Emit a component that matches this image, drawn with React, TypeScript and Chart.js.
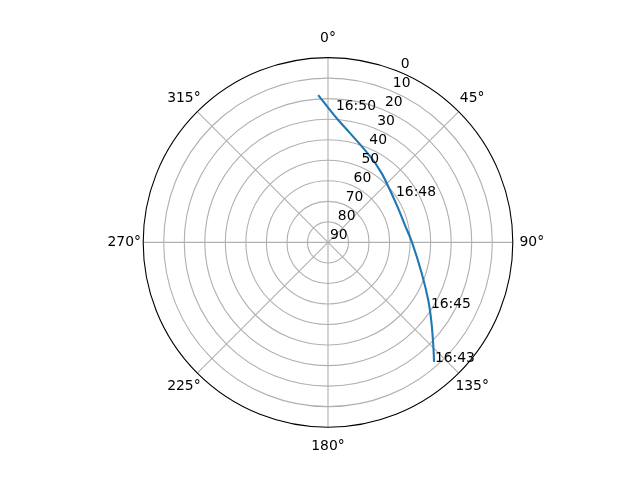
import React, { useEffect, useRef } from "react";
import { Chart, registerables } from "chart.js";

Chart.register(...registerables);

// satellite track, in time order (azimuth deg clockwise from north, elevation deg)
const azimuth = [138.4, 134.7, 128.0, 119.9, 108.3, 89.5, 77.3, 64.1, 49.8, 37.9, 26.5, 11.4, 4.0, -3.8];
const elevation = [12.2, 17.8, 26.0, 33.7, 41.9, 49.2, 51.6, 52.0, 50.5, 47.4, 43.5, 35.7, 29.4, 18.1];

// time annotations
const timeLabels = ["16:43", "16:45", "16:48", "16:50"];
const timeAzimuth = [138.4, 122.9, 55.3, 3.0];
const timeElevation = [12.3, 30.9, 50.3, 25.4];

const radialTicks = [0, 10, 20, 30, 40, 50, 60, 70, 80, 90];
const angleTicks = [0, 45, 90, 135, 180, 225, 270, 315];
const radialLabelAngle = 22.5;

const FONT = "13.9px 'DejaVu Sans'";

function toXY(az: number, el: number) {
  const r = 90 - el;
  const a = (az * Math.PI) / 180;
  return { x: r * Math.sin(a), y: r * Math.cos(a) };
}

const polarGrid = {
  id: "polarGrid",
  beforeDatasetsDraw(chart: any) {
    const { ctx, scales } = chart;
    const sx = scales.x, sy = scales.y;
    const cx = sx.getPixelForValue(0);
    const cy = sy.getPixelForValue(0);
    const unit = sx.getPixelForValue(1) - cx;
    ctx.save();
    ctx.strokeStyle = "#b0b0b0";
    ctx.lineWidth = 1.1;
    for (const t of radialTicks) {
      const r = (90 - t) * unit;
      if (r <= 0 || t === 0) continue;
      ctx.beginPath();
      ctx.arc(cx, cy, r, 0, Math.PI * 2);
      ctx.stroke();
    }
    for (const a of angleTicks) {
      const p = toXY(a, 0);
      ctx.beginPath();
      ctx.moveTo(cx, cy);
      ctx.lineTo(sx.getPixelForValue(p.x), sy.getPixelForValue(p.y));
      ctx.stroke();
    }
    // outer spine
    ctx.strokeStyle = "#000000";
    ctx.beginPath();
    ctx.arc(cx, cy, 90 * unit, 0, Math.PI * 2);
    ctx.stroke();

    // angle labels
    ctx.fillStyle = "#000000";
    ctx.font = FONT;
    ctx.textAlign = "center";
    ctx.textBaseline = "middle";
    const R = 90 * unit + 19;
    for (const a of angleTicks) {
      const rad = (a * Math.PI) / 180;
      ctx.fillText(a + "°", cx + R * Math.sin(rad), cy - R * Math.cos(rad));
    }
    ctx.restore();
  },
  afterDatasetsDraw(chart: any) {
    const { ctx, scales } = chart;
    const sx = scales.x, sy = scales.y;
    ctx.save();
    ctx.fillStyle = "#000000";
    ctx.font = FONT;
    ctx.textAlign = "left";
    ctx.textBaseline = "alphabetic";
    // radial tick labels
    for (const t of radialTicks) {
      const p = toXY(radialLabelAngle, t);
      ctx.fillText(String(t), sx.getPixelForValue(p.x) + 2, sy.getPixelForValue(p.y) - 3.5);
    }
    // time labels
    timeLabels.forEach((lab, i) => {
      const p = toXY(timeAzimuth[i], timeElevation[i]);
      ctx.fillText(lab, sx.getPixelForValue(p.x) + 1, sy.getPixelForValue(p.y));
    });
    ctx.restore();
  },
};

export default function App() {
  const canvasRef = useRef<HTMLCanvasElement | null>(null);
  const chartRef = useRef<any>(null);

  useEffect(() => {
    if (canvasRef.current && !chartRef.current) {
      const points = azimuth.map((az, i) => toXY(az, elevation[i]));
      chartRef.current = new Chart(canvasRef.current, {
        type: "scatter",
        data: {
          datasets: [
            {
              data: points,
              showLine: true,
              borderColor: "#1f77b4",
              backgroundColor: "#1f77b4",
              borderWidth: 2.1,
              pointRadius: 0,
              tension: 0.3,
              fill: false,
            },
          ],
        },
        options: {
          responsive: false,
          animation: false,
          devicePixelRatio: 1,
          layout: { padding: { left: 143.2, right: 127.2, top: 57.6, bottom: 52.8 } },
          scales: {
            x: { type: "linear", min: -90, max: 90, display: false },
            y: { type: "linear", min: -90, max: 90, display: false },
          },
          plugins: {
            legend: { display: false },
            tooltip: { enabled: false },
          },
        },
        plugins: [polarGrid],
      } as any);
    }
    return () => {
      if (chartRef.current) {
        chartRef.current.destroy();
        chartRef.current = null;
      }
    };
  }, []);

  return (
    <div style={{ position: "absolute", left: 0, top: 0, width: 640, height: 480, background: "#fff" }}>
      <canvas ref={canvasRef} width={640} height={480} />
    </div>
  );
}
